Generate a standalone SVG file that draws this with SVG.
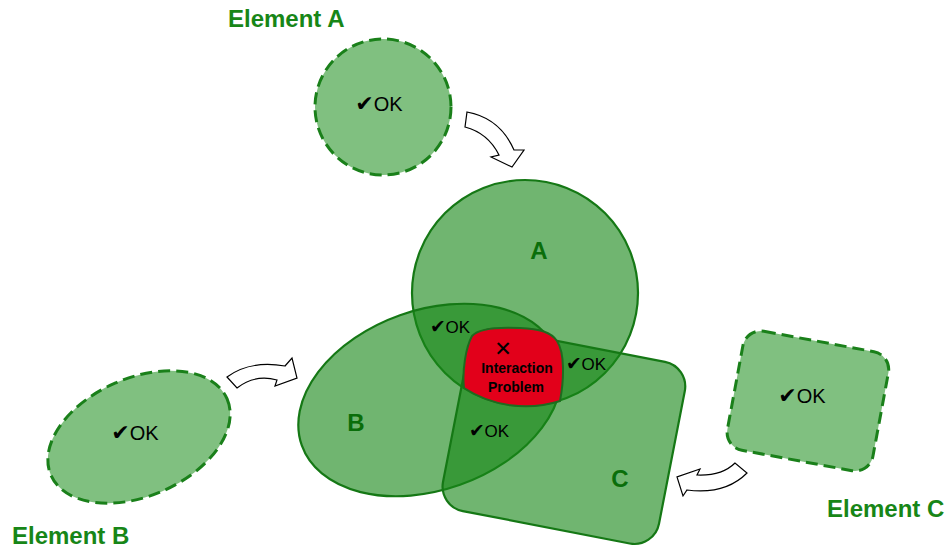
<svg xmlns="http://www.w3.org/2000/svg" width="950" height="548" viewBox="0 0 950 548">
<style>
.elem{fill:#80c080;stroke:#1a801a;stroke-width:3;stroke-dasharray:12 6}
.main{fill:#188818;fill-opacity:0.62;stroke:#157815;stroke-width:2.2}
.elabel{font-family:"Liberation Sans",Arial,sans-serif;font-weight:bold;font-size:24px;fill:#178617}
.mlabel{font-family:"Liberation Sans",Arial,sans-serif;font-weight:bold;font-size:24px;fill:#0a6e0a;text-anchor:middle}
.ok{font-family:"Liberation Sans","DejaVu Sans",sans-serif;font-size:20px;fill:#000;text-anchor:middle}
.oks{font-family:"Liberation Sans","DejaVu Sans",sans-serif;font-size:17px;fill:#000;text-anchor:middle}
.chk{font-family:"DejaVu Sans",sans-serif;font-size:1.1em}
.arrow{fill:#fff;stroke:#000;stroke-width:1.2;stroke-linejoin:miter}
.prob{font-family:"Liberation Sans",Arial,sans-serif;font-weight:bold;font-size:14px;fill:#000;text-anchor:middle}
</style>

<g id="mainA">
<circle class="main" cx="525" cy="293" r="113"/>
</g>
<g id="mainB">
<ellipse class="main" cx="430" cy="400" rx="136" ry="90" transform="rotate(-19.5 430 400)"/>
</g>
<g id="mainC">
<rect class="main" x="-110" y="-92" width="220" height="185" rx="25" transform="translate(564 436) rotate(11)"/>
</g>

<g id="mainLabels">
<text class="mlabel" x="539" y="259">A</text>
<text class="mlabel" x="356" y="431">B</text>
<text class="mlabel" x="620" y="487">C</text>
<text class="oks" x="450" y="333"><tspan class="chk">✔</tspan>OK</text>
<text class="oks" x="586" y="370"><tspan class="chk">✔</tspan>OK</text>
<text class="oks" x="489" y="437"><tspan class="chk">✔</tspan>OK</text>
</g>

<g id="problem">
<path d="M472,336 C479,328 500,327 520,328 C540,329 551,332 557,341 C565,353 564,380 560,401 A113,113 0 0 1 464,388 C462,370 466,347 472,336 Z" fill="#e2001a" stroke="#1f6b1f" stroke-width="2"/>
<text x="503" y="356" font-family="DejaVu Sans,sans-serif" font-weight="bold" font-size="21" text-anchor="middle" fill="#000">✕</text>
<text class="prob" x="517" y="373">Interaction</text>
<text class="prob" x="516" y="392">Problem</text>
</g>

<g id="elementA">
<circle class="elem" cx="383" cy="107" r="68"/>
<text class="ok" x="379" y="111"><tspan class="chk">✔</tspan>OK</text>
<text class="elabel" x="228" y="27">Element A</text>
</g>
<g id="elementB">
<ellipse class="elem" cx="139" cy="437" rx="96" ry="59" transform="rotate(-23.4 139 437)"/>
<text class="ok" x="135" y="440"><tspan class="chk">✔</tspan>OK</text>
<text class="elabel" x="12" y="544">Element B</text>
</g>
<g id="elementC">
<rect class="elem" x="-74" y="-60" width="148" height="121" rx="18" transform="translate(808 400.5) rotate(10.5)"/>
<text class="ok" x="802" y="403"><tspan class="chk">✔</tspan>OK</text>
<text class="elabel" x="827" y="517">Element C</text>
</g>

<g id="connectors">
<path class="arrow" d="M467,112 Q500,118 514,150 L524,150 L512,167 L491,157 L499,155 Q488,133 465,127 Z"/>
<path class="arrow" d="M227,377 Q250,360 285,366 L292,358 L297,378 L275,386 L277,380 Q255,374 237,388 Z"/>
<path class="arrow" d="M747,473 Q725,495 687,490 L683,496 L677,477 L700,469 L697,475 Q722,476 735,463 Z"/>
</g>
</svg>
